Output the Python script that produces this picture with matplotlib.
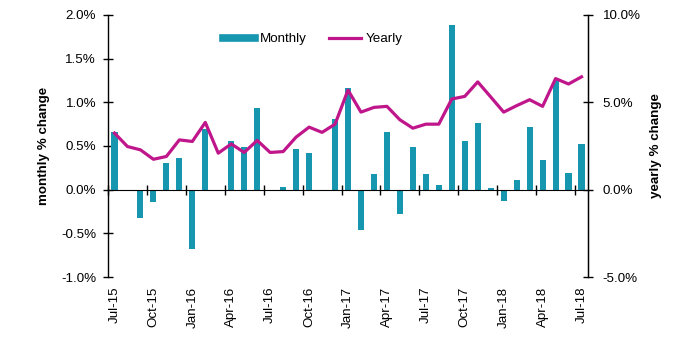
import numpy as np
import matplotlib
matplotlib.use("Agg")
import matplotlib.pyplot as plt
from matplotlib.ticker import FuncFormatter
from matplotlib.lines import Line2D

plt.rcParams['font.family'] = ['Liberation Sans', 'DejaVu Sans']

months = ['Jul-15', 'Aug-15', 'Sep-15', 'Oct-15', 'Nov-15', 'Dec-15',
          'Jan-16', 'Feb-16', 'Mar-16', 'Apr-16', 'May-16', 'Jun-16',
          'Jul-16', 'Aug-16', 'Sep-16', 'Oct-16', 'Nov-16', 'Dec-16',
          'Jan-17', 'Feb-17', 'Mar-17', 'Apr-17', 'May-17', 'Jun-17',
          'Jul-17', 'Aug-17', 'Sep-17', 'Oct-17', 'Nov-17', 'Dec-17',
          'Jan-18', 'Feb-18', 'Mar-18', 'Apr-18', 'May-18', 'Jun-18',
          'Jul-18']
monthly = [0.66, -0.01, -0.32, -0.14, 0.31, 0.36,
           -0.68, 0.70, 0.0, 0.56, 0.49, 0.94,
           -0.02, 0.03, 0.47, 0.42, 0.0, 0.81,
           1.16, -0.46, 0.18, 0.66, -0.28, 0.49,
           0.18, 0.05, 1.88, 0.56, 0.76, 0.02,
           -0.13, 0.11, 0.72, 0.34, 1.26, 0.19,
           0.52]
yearly = [3.24, 2.47, 2.28, 1.74, 1.90, 2.85,
          2.76, 3.85, 2.09, 2.62, 2.13, 2.82,
          2.13, 2.18, 3.01, 3.58, 3.28, 3.75,
          5.70, 4.44, 4.71, 4.77, 4.00, 3.52,
          3.75, 3.75, 5.19, 5.34, 6.17, 5.31,
          4.44, 4.81, 5.15, 4.77, 6.36, 6.05,
          6.46]
label_months = months[::3]

teal = '#1796B0'
magenta = '#C0168C'
fs = 9.6

fig = plt.figure(figsize=(7.0, 3.49), dpi=100)
ax = fig.add_axes([108/700, 1-277/349, 480/700, 262/349])
ax2 = ax.twinx()

x = np.arange(len(months))
ax.bar(x, monthly, width=0.47, color=teal, zorder=2)
ax2.plot(x, yearly, color=magenta, lw=2.3, zorder=3)

ax.set_xlim(-0.5, len(months) - 0.5)
ax.set_ylim(-1.0, 2.0)
ax2.set_ylim(-5.0, 10.0)
ax.set_yticks(np.arange(-1.0, 2.01, 0.5))
ax2.set_yticks(np.arange(-5.0, 10.01, 5.0))
ax.yaxis.set_major_formatter(FuncFormatter(lambda v, p: f'{v:.1f}%'))
ax2.yaxis.set_major_formatter(FuncFormatter(lambda v, p: f'{v:.1f}%'))

for a in (ax, ax2):
    a.spines['top'].set_visible(False)
ax2.spines['bottom'].set_visible(False)
ax.spines['bottom'].set_position(('data', 0))
ax.spines['left'].set_linewidth(1.0)
ax2.spines['right'].set_linewidth(1.0)
ax2.spines['left'].set_visible(False)
ax.set_xticks(np.arange(-0.5, len(months), 3))
ax.tick_params(axis='x', direction='inout', length=7, width=1, labelbottom=False)
ax.tick_params(axis='y', direction='inout', length=7, width=1, labelsize=fs, pad=5)
ax2.tick_params(axis='y', direction='inout', length=7, width=1, labelsize=fs, pad=7)

sec = ax.secondary_xaxis(location=0)
sec.spines['bottom'].set_visible(False)
sec.set_xticks(x[::3])
sec.set_xticklabels(label_months, rotation=90, fontsize=fs)
sec.tick_params(axis='x', length=0, pad=7)

ax.set_ylabel('monthly % change', fontsize=fs, fontweight='bold', labelpad=8)
ax2.set_ylabel('yearly % change', fontsize=fs, fontweight='bold', labelpad=7)

handles = [Line2D([], [], color=teal, lw=5.5), Line2D([], [], color=magenta, lw=2.3)]
fig.legend(handles, ['Monthly', 'Yearly'], loc='center', bbox_to_anchor=(313/700, 1-39/349),
           ncol=2, frameon=False, fontsize=fs, handlelength=2.4, handletextpad=0.35,
           columnspacing=1.7)

fig.savefig('out.png', dpi=100)
